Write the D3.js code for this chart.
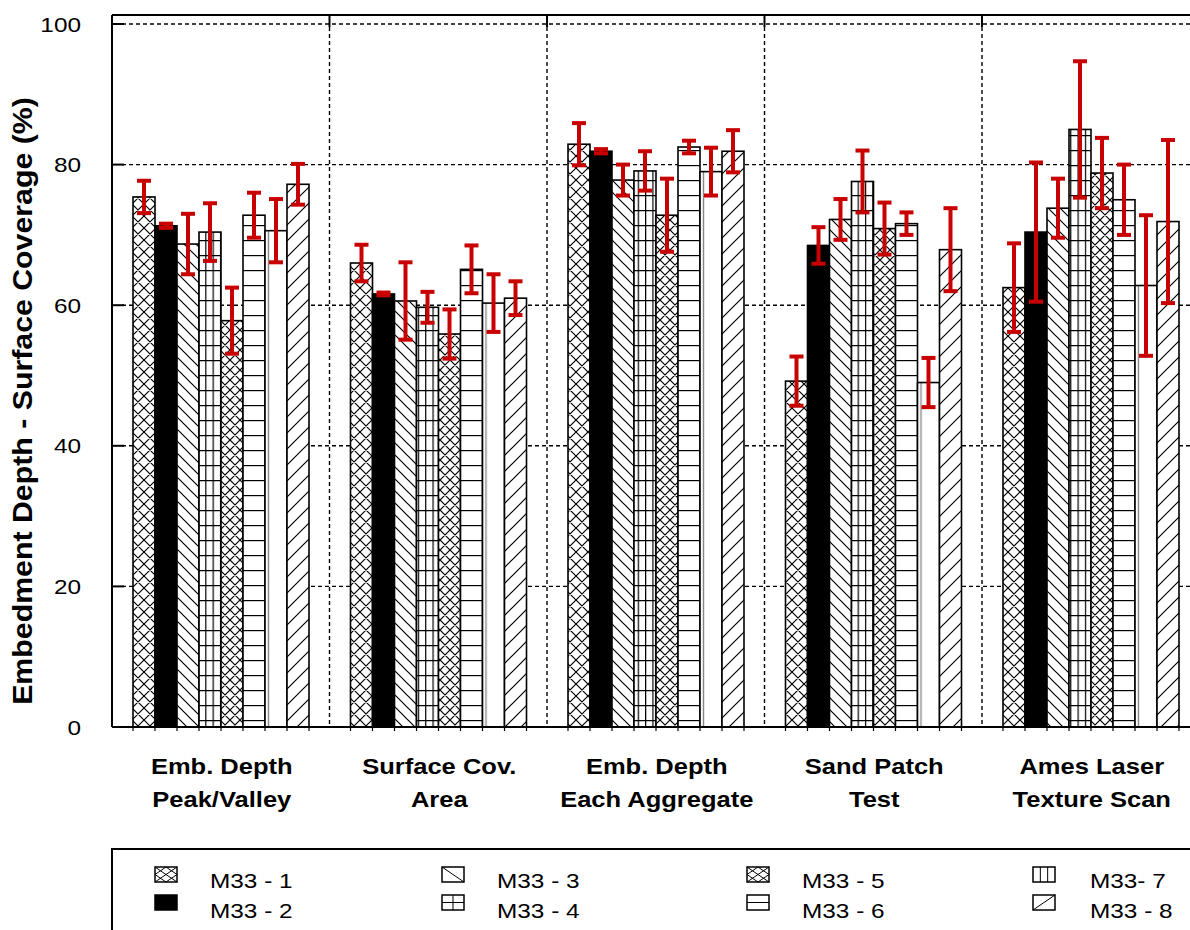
<!DOCTYPE html>
<html><head><meta charset="utf-8">
<script src="https://cdn.jsdelivr.net/npm/d3@7"></script>
<style>body{margin:0;background:#fff} svg{display:block}</style>
</head><body>
<svg id="chart" width="1190" height="930"></svg>
<script>
// ---- data ----
const categoryLine1 = ["Emb. Depth", "Surface Cov.", "Emb. Depth", "Sand Patch", "Ames Laser"];
const categoryLine2 = ["Peak/Valley", "Area", "Each Aggregate", "Test", "Texture Scan"];
const seriesNames = ["M33 - 1", "M33 - 2", "M33 - 3", "M33 - 4", "M33 - 5", "M33 - 6", "M33- 7", "M33 - 8"];
const m33_1 = [75.4, 66.0, 82.9, 49.2, 62.5];
const m33_2 = [71.3, 61.6, 81.9, 68.5, 70.4];
const m33_3 = [68.7, 60.6, 77.8, 72.2, 73.8];
const m33_4 = [70.4, 59.7, 79.1, 77.6, 85.0];
const m33_5 = [57.8, 55.9, 72.8, 70.9, 78.8];
const m33_6 = [72.8, 65.1, 82.5, 71.6, 75.0];
const m33_7 = [70.6, 60.3, 79.0, 49.0, 62.8];
const m33_8 = [77.2, 61.0, 81.9, 67.9, 71.9];
const err_1 = [2.3, 2.6, 3.0, 3.5, 6.3];
const err_2 = [0.3, 0.2, 0.3, 2.6, 9.9];
const err_3 = [4.3, 5.5, 2.2, 2.9, 4.2];
const err_4 = [4.1, 2.2, 2.8, 4.4, 9.7];
const err_5 = [4.7, 3.5, 5.2, 3.7, 5.0];
const err_6 = [3.2, 3.4, 0.9, 1.6, 5.0];
const err_7 = [4.5, 4.1, 3.4, 3.5, 10.0];
const err_8 = [2.9, 2.4, 3.0, 5.9, 11.6];
const yTicks = [0, 20, 40, 60, 80, 100];

const seriesValues = [m33_1, m33_2, m33_3, m33_4, m33_5, m33_6, m33_7, m33_8];
const seriesErrors = [err_1, err_2, err_3, err_4, err_5, err_6, err_7, err_8];

// ---- layout ----
const svg = d3.select("#chart");
const FONT = "Arial, 'Liberation Sans', sans-serif";
const SX = 1.16;
const pL = 112, pT = 15, pB = 727, y100 = 24, pR = 1200;
const catIdx = d3.range(categoryLine1.length);

const x0 = d3.scaleBand().domain(catIdx).range([pL, pL + 5 * 217.5]);
const x1 = d3.scaleBand().domain(d3.range(seriesNames.length)).range([21, 197]);
const y = d3.scaleLinear().domain([0, 100]).range([pB, y100]);

// ---- patterns ----
const defs = svg.append("defs");
function pat(id, w, h, paths, sw) {
  const p = defs.append("pattern").attr("id", id).attr("patternUnits", "userSpaceOnUse")
    .attr("width", w).attr("height", h);
  p.append("rect").attr("width", w).attr("height", h).attr("fill", "#fff");
  p.append("path").attr("d", paths).attr("stroke", "#000").attr("stroke-width", sw || 1.2).attr("fill", "none");
}
pat("p1", 12, 12, "M0,0L12,12M12,0L0,12M-2,2L2,-2M10,14L14,10M-2,10L2,14M10,-2L14,2", 1.2);
pat("p5", 10, 10, "M0,0L10,10M10,0L0,10M-2,2L2,-2M8,12L12,8M-2,8L2,12M8,-2L12,2", 1.2);
pat("p3", 12, 12, "M0,0L12,12M-3,9L3,15M9,-3L15,3", 1.2);
pat("p8", 16, 16, "M0,16L16,0M-4,4L4,-4M12,20L20,12", 1.2);
pat("p4", 7.33, 15, "M0.6,0V15M0,0.6H7.33", 1.2);
pat("p6", 20, 15, "M0,0.6H20", 1.2);
{
  const p = defs.append("pattern").attr("id", "p7").attr("patternUnits", "objectBoundingBox")
    .attr("width", 1).attr("height", 1);
  p.append("rect").attr("width", 60).attr("height", 1000).attr("fill", "#fff");
  p.append("path").attr("d", "M3.5,0V1000").attr("stroke", "#888").attr("stroke-width", 1.4);
}
const fills = ["url(#p1)", "#000", "url(#p3)", "url(#p4)", "url(#p5)", "url(#p6)", "url(#p7)", "url(#p8)"];

// ---- gridlines ----
const grid = svg.append("g").attr("stroke", "#000").attr("stroke-width", 1.4).attr("stroke-dasharray", "4,3");
grid.selectAll("line.h").data(yTicks.filter(d => d > 0)).join("line")
  .attr("x1", pL + 10).attr("x2", pR).attr("y1", d => y(d)).attr("y2", d => y(d));
grid.selectAll("line.v").data(catIdx.slice(1)).join("line")
  .attr("x1", d => x0(d)).attr("x2", d => x0(d)).attr("y1", pT + 12).attr("y2", pB);

// ---- bars ----
const rows = [];
catIdx.forEach(c => seriesNames.forEach((s, i) => rows.push({c, i, v: seriesValues[i][c], e: seriesErrors[i][c]})));
svg.append("g").selectAll("rect").data(rows).join("rect")
  .attr("x", d => x0(d.c) + x1(d.i))
  .attr("y", d => y(d.v))
  .attr("width", x1.bandwidth())
  .attr("height", d => y(0) - y(d.v))
  .attr("fill", d => fills[d.i])
  .attr("stroke", "#000").attr("stroke-width", 1.6);

// ---- axes / frame ----
const frame = svg.append("g").attr("stroke", "#000").attr("stroke-width", 2);
frame.append("line").attr("x1", pL).attr("x2", pL).attr("y1", pT).attr("y2", pB);
frame.append("line").attr("x1", pL).attr("x2", pR).attr("y1", pT).attr("y2", pT);
frame.append("line").attr("x1", pL).attr("x2", pR).attr("y1", pB).attr("y2", pB);
frame.selectAll("line.yt").data(yTicks).join("line")
  .attr("x1", pL).attr("x2", pL + 12).attr("y1", d => y(d)).attr("y2", d => y(d));
frame.selectAll("line.tt").data(catIdx.slice(1)).join("line")
  .attr("x1", d => x0(d)).attr("x2", d => x0(d)).attr("y1", pT).attr("y2", pT + 12);
// small ticks under bar edges
const edges = [];
catIdx.forEach(c => d3.range(seriesNames.length + 1).forEach(i => edges.push(x0(c) + 21 + i * x1.bandwidth())));
svg.append("g").attr("stroke", "#000").attr("stroke-width", 1.2).selectAll("line").data(edges).join("line")
  .attr("x1", d => d).attr("x2", d => d).attr("y1", pB).attr("y2", pB + 4);

// ---- error bars ----
const RED = "#c80000";
const eb = svg.append("g").attr("stroke", RED).attr("stroke-width", 4).attr("fill", "none");
rows.forEach(d => {
  const cx = x0(d.c) + x1(d.i) + x1.bandwidth() / 2;
  const g = eb.append("g");
  g.append("line").attr("x1", cx).attr("x2", cx).attr("y1", y(d.v + d.e)).attr("y2", y(d.v - d.e));
  g.append("line").attr("x1", cx - 7).attr("x2", cx + 7).attr("y1", y(d.v + d.e)).attr("y2", y(d.v + d.e));
  g.append("line").attr("x1", cx - 7).attr("x2", cx + 7).attr("y1", y(d.v - d.e)).attr("y2", y(d.v - d.e));
});

// ---- y tick labels ----
svg.append("g").selectAll("text").data(yTicks).join("text")
  .attr("transform", d => `translate(81,${y(d)}) scale(${SX},1)`)
  .attr("dy", "0.36em").attr("text-anchor", "end")
  .attr("font-family", FONT).attr("font-size", 21).attr("fill", "#000")
  .text(d => d);

// ---- y title ----
const yt = svg.append("text")
  .attr("font-family", FONT).attr("font-size", 27).attr("font-weight", "bold")
  .attr("text-anchor", "middle").text("Embedment Depth - Surface Coverage (%)");
const natural = yt.node().getComputedTextLength();
yt.attr("transform", `translate(32,401) rotate(-90) scale(${608 / natural},1)`);

// ---- category labels ----
const cl = svg.append("g").attr("font-family", FONT).attr("font-size", 22).attr("font-weight", "bold").attr("text-anchor", "middle");
cl.selectAll("text.l1").data(catIdx).join("text")
  .attr("transform", d => `translate(${x0(d) + x0.bandwidth() / 2 + 1},774) scale(${SX},1)`)
  .text(d => categoryLine1[d]);
cl.selectAll("text.l2").data(catIdx).join("text")
  .attr("transform", d => `translate(${x0(d) + x0.bandwidth() / 2 + 1},807) scale(${SX},1)`)
  .text(d => categoryLine2[d]);

// ---- legend ----
svg.append("rect").attr("x", pL).attr("y", 849).attr("width", 1200).attr("height", 200)
  .attr("fill", "none").attr("stroke", "#000").attr("stroke-width", 2);
const symX = [155, 442, 747, 1033], txtX = [210, 497, 802, 1090];
const symY = [867, 895], txtY = [888, 918];
const glyphs = [
  (w, h) => `M0,0L${w},${h}M${w},0L0,${h}M${w/2},0L${w},${h/2}L${w/2},${h}L0,${h/2}Z`,
  null,
  (w, h) => `M0,0L${w},${h}`,
  (w, h) => `M${w/2},0V${h}M0,${h/2}H${w}`,
  (w, h) => `M0,0L${w},${h}M${w},0L0,${h}M${w/2},0L${w},${h/2}L${w/2},${h}L0,${h/2}Z`,
  (w, h) => `M0,${h/2}H${w}`,
  (w, h) => `M${w/3},0V${h}M${2*w/3},0V${h}`,
  (w, h) => `M0,${h}L${w},0`
];
const lg = svg.append("g");
seriesNames.forEach((s, i) => {
  const col = Math.floor(i / 2), row = i % 2;
  const g = lg.append("g").attr("transform", `translate(${symX[col]},${symY[row]})`);
  const w = 22, h = 15;
  g.append("rect").attr("width", w).attr("height", h).attr("fill", i === 1 ? "#000" : "#fff")
    .attr("stroke", "#000").attr("stroke-width", 1.5);
  if (glyphs[i]) g.append("path").attr("d", glyphs[i](w, h)).attr("stroke", "#000").attr("stroke-width", 1).attr("fill", "none");
  lg.append("text").attr("transform", `translate(${txtX[col]},${txtY[row]}) scale(${SX},1)`)
    .attr("font-family", FONT).attr("font-size", 21).text(s);
});
</script>
</body></html>
